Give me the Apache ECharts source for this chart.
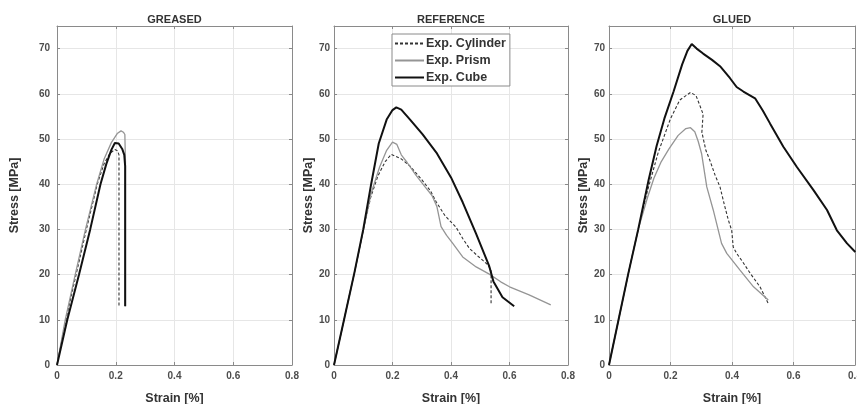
<!DOCTYPE html>
<html>
<head>
<meta charset="utf-8">
<script src="https://cdn.jsdelivr.net/npm/echarts@6/dist/echarts.min.js"></script>
<style>
html,body{margin:0;padding:0;background:#fff;}
#c{width:857px;height:404px;}
</style>
</head>
<body>
<div id="c"></div>
<script>
// ---- data (strain [%], stress [MPa]) ----
const panelTitles = ['GREASED', 'REFERENCE', 'GLUED'];
const seriesNames = ['Exp. Cylinder', 'Exp. Prism', 'Exp. Cube'];
const xTicks = [0, 0.2, 0.4, 0.6, 0.8];
const yTicks = [0, 10, 20, 30, 40, 50, 60, 70];

const greasedCylinder = [[0,0],[0.03,10],[0.065,20],[0.1,30],[0.137,40],[0.16,44.5],[0.18,46.8],[0.197,47.7],[0.206,47.4],[0.211,46.5],[0.211,13]];
const greasedPrism = [[0,0],[0.028,10],[0.062,20],[0.097,30],[0.135,40],[0.16,45.5],[0.185,49.2],[0.205,51.2],[0.218,51.8],[0.226,51.5],[0.231,51],[0.233,45],[0.233,13]];
const greasedCube = [[0,0],[0.035,10],[0.075,20],[0.113,30],[0.148,40],[0.168,44.5],[0.185,47.6],[0.197,49.1],[0.21,49],[0.222,47.8],[0.229,46.5],[0.232,44],[0.232,13]];

const refCylinder = [[0,0],[0.036,10.5],[0.07,20.5],[0.101,30],[0.125,37],[0.15,41.8],[0.175,45],[0.196,46.6],[0.21,46.2],[0.23,45.6],[0.26,44],[0.3,41],[0.33,38.5],[0.35,36],[0.38,33],[0.417,30.5],[0.44,28],[0.463,25.8],[0.49,24.2],[0.508,23.2],[0.525,22.2],[0.537,21],[0.537,13.2]];
const refPrism = [[0,0],[0.036,10.5],[0.07,20.5],[0.101,30],[0.127,38],[0.156,43.8],[0.18,47.5],[0.2,49.3],[0.215,48.8],[0.23,46.5],[0.25,44.8],[0.28,42],[0.31,39.5],[0.335,37.5],[0.352,35],[0.366,30.6],[0.385,28.7],[0.406,26.9],[0.44,23.9],[0.486,21.7],[0.531,20.1],[0.57,18.4],[0.6,17.3],[0.667,15.5],[0.741,13.3]];
const refCube = [[0,0],[0.036,10.5],[0.07,20.5],[0.1,30],[0.127,40],[0.153,49],[0.18,54.3],[0.2,56.4],[0.213,57],[0.23,56.5],[0.26,54.3],[0.303,51],[0.35,47],[0.4,41.5],[0.44,36],[0.486,29],[0.53,22],[0.545,18.5],[0.576,15],[0.616,13]];

const gluedCylinder = [[0,0],[0.031,10],[0.062,20],[0.095,30],[0.125,38.5],[0.16,47],[0.2,54.5],[0.23,58.6],[0.265,60.3],[0.283,59.6],[0.295,57.5],[0.306,55.5],[0.302,51.5],[0.315,47.5],[0.328,45.3],[0.345,42],[0.361,39.4],[0.375,35.5],[0.388,32.1],[0.399,29.8],[0.404,26.1],[0.415,24.7],[0.435,22.8],[0.459,20.3],[0.491,17.3],[0.518,13.6]];
const gluedPrism = [[0,0],[0.031,10],[0.062,20],[0.095,30],[0.125,37],[0.146,41.3],[0.17,45],[0.195,47.8],[0.225,50.8],[0.25,52.3],[0.265,52.5],[0.279,51.6],[0.29,49.5],[0.301,46.8],[0.318,39.4],[0.339,34.3],[0.366,26.9],[0.383,24.7],[0.426,21],[0.47,17.3],[0.518,14.4]];
const gluedCube = [[0,0],[0.031,10],[0.062,20],[0.095,30],[0.129,41],[0.155,48.5],[0.18,54.5],[0.21,60.5],[0.238,66.5],[0.255,69.5],[0.269,71],[0.285,70],[0.306,68.9],[0.335,67.5],[0.361,66.1],[0.393,63.5],[0.415,61.5],[0.437,60.5],[0.475,59],[0.5,56.3],[0.524,53.4],[0.567,48.3],[0.611,43.8],[0.665,38.7],[0.709,34.3],[0.741,29.8],[0.774,26.9],[0.801,25]];

const panelData = [
  [greasedCylinder, greasedPrism, greasedCube],
  [refCylinder, refPrism, refCube],
  [gluedCylinder, gluedPrism, gluedCube]
];

// ---- layout ----
const grids = [
  {left: 57, top: 26, width: 235, height: 339, outerBoundsMode: 'none', containLabel: false},
  {left: 334, top: 26, width: 234, height: 339, outerBoundsMode: 'none', containLabel: false},
  {left: 609, top: 26, width: 246, height: 339, outerBoundsMode: 'none', containLabel: false}
];
const yNameGap = [36, 18, 16];
const yLabelMargin = [7, 4, 4];

const lineStyles = [
  {color: '#333333', width: 1.1, type: [3, 2]},
  {color: '#959595', width: 1.3, type: 'solid'},
  {color: '#111111', width: 2, type: 'solid'}
];

const FF = 'Liberation Sans, Arial, sans-serif';
const tickFont = {fontFamily: FF, fontSize: 10, fontWeight: 'bold', color: '#4d4d4d'};
const nameFont = {fontFamily: FF, fontSize: 12.5, fontWeight: 'bold', color: '#333333'};

const xAxes = [], yAxes = [], series = [], titles = [];
grids.forEach((g, i) => {
  const common = {min: 0, interval: 0.2, max: 0.8, gridIndex: i};
  xAxes.push(Object.assign({}, common, {
    type: 'value', position: 'bottom',
    name: 'Strain [%]', nameLocation: 'middle', nameGap: 27, nameTextStyle: nameFont,
    axisLine: {show: true, onZero: false, lineStyle: {color: '#8a8a8a', width: 1}},
    axisTick: {show: true, inside: true, length: 3, lineStyle: {color: '#8a8a8a'}},
    axisLabel: Object.assign({margin: 6, formatter: v => (v === 0 ? '0' : String(+v.toFixed(1)))}, tickFont),
    splitLine: {show: true, lineStyle: {color: '#e6e6e6', width: 1}}
  }));
  xAxes.push(Object.assign({}, common, {
    type: 'value', position: 'top',
    axisLine: {show: true, onZero: false, lineStyle: {color: '#8a8a8a', width: 1}},
    axisTick: {show: true, inside: true, length: 3, lineStyle: {color: '#8a8a8a'}},
    axisLabel: {show: false}, splitLine: {show: false}
  }));
  const yc = {min: 0, max: 75, interval: 10, gridIndex: i};
  yAxes.push(Object.assign({}, yc, {
    type: 'value', position: 'left',
    name: 'Stress [MPa]', nameLocation: 'middle', nameGap: yNameGap[i], nameTextStyle: nameFont,
    axisLine: {show: true, onZero: false, lineStyle: {color: '#8a8a8a', width: 1}},
    axisTick: {show: true, inside: true, length: 3, lineStyle: {color: '#8a8a8a'}},
    axisLabel: Object.assign({margin: yLabelMargin[i], showMaxLabel: false}, tickFont),
    splitLine: {show: true, lineStyle: {color: '#e6e6e6', width: 1}}
  }));
  yAxes.push(Object.assign({}, yc, {
    type: 'value', position: 'right',
    axisLine: {show: true, onZero: false, lineStyle: {color: '#8a8a8a', width: 1}},
    axisTick: {show: true, inside: true, length: 3, lineStyle: {color: '#8a8a8a'}},
    axisLabel: {show: false}, splitLine: {show: false}
  }));
  titles.push({
    text: panelTitles[i], left: g.left + g.width / 2, top: 14, padding: 0, textAlign: 'center',
    textStyle: {fontFamily: FF, fontSize: 11, fontWeight: 'bold', color: '#333333'}
  });
  panelData[i].forEach((d, k) => {
    series.push({
      name: seriesNames[k], type: 'line', xAxisIndex: 2 * i, yAxisIndex: 2 * i,
      data: d, symbol: 'none', smooth: false, animation: false,
      lineStyle: lineStyles[k], itemStyle: {color: lineStyles[k].color}, z: 3 + k
    });
  });
});

const chart = echarts.init(document.getElementById('c'), null, {renderer: 'canvas'});
chart.setOption({
  backgroundColor: '#ffffff',
  animation: false,
  title: titles,
  grid: grids,
  xAxis: xAxes,
  yAxis: yAxes,
  legend: {
    data: seriesNames, orient: 'vertical', left: 392, top: 34,
    itemWidth: 29, itemHeight: 12, itemGap: 4,
    padding: [3, 4, 2, 2],
    itemStyle: {opacity: 0},
    backgroundColor: '#ffffff', borderColor: '#8a8a8a', borderWidth: 1,
    textStyle: {fontFamily: FF, fontSize: 12.5, fontWeight: 'bold', color: '#333333', padding: [0, 0, 0, -3]},
    selectedMode: false
  },
  series: series
});
</script>
</body>
</html>
